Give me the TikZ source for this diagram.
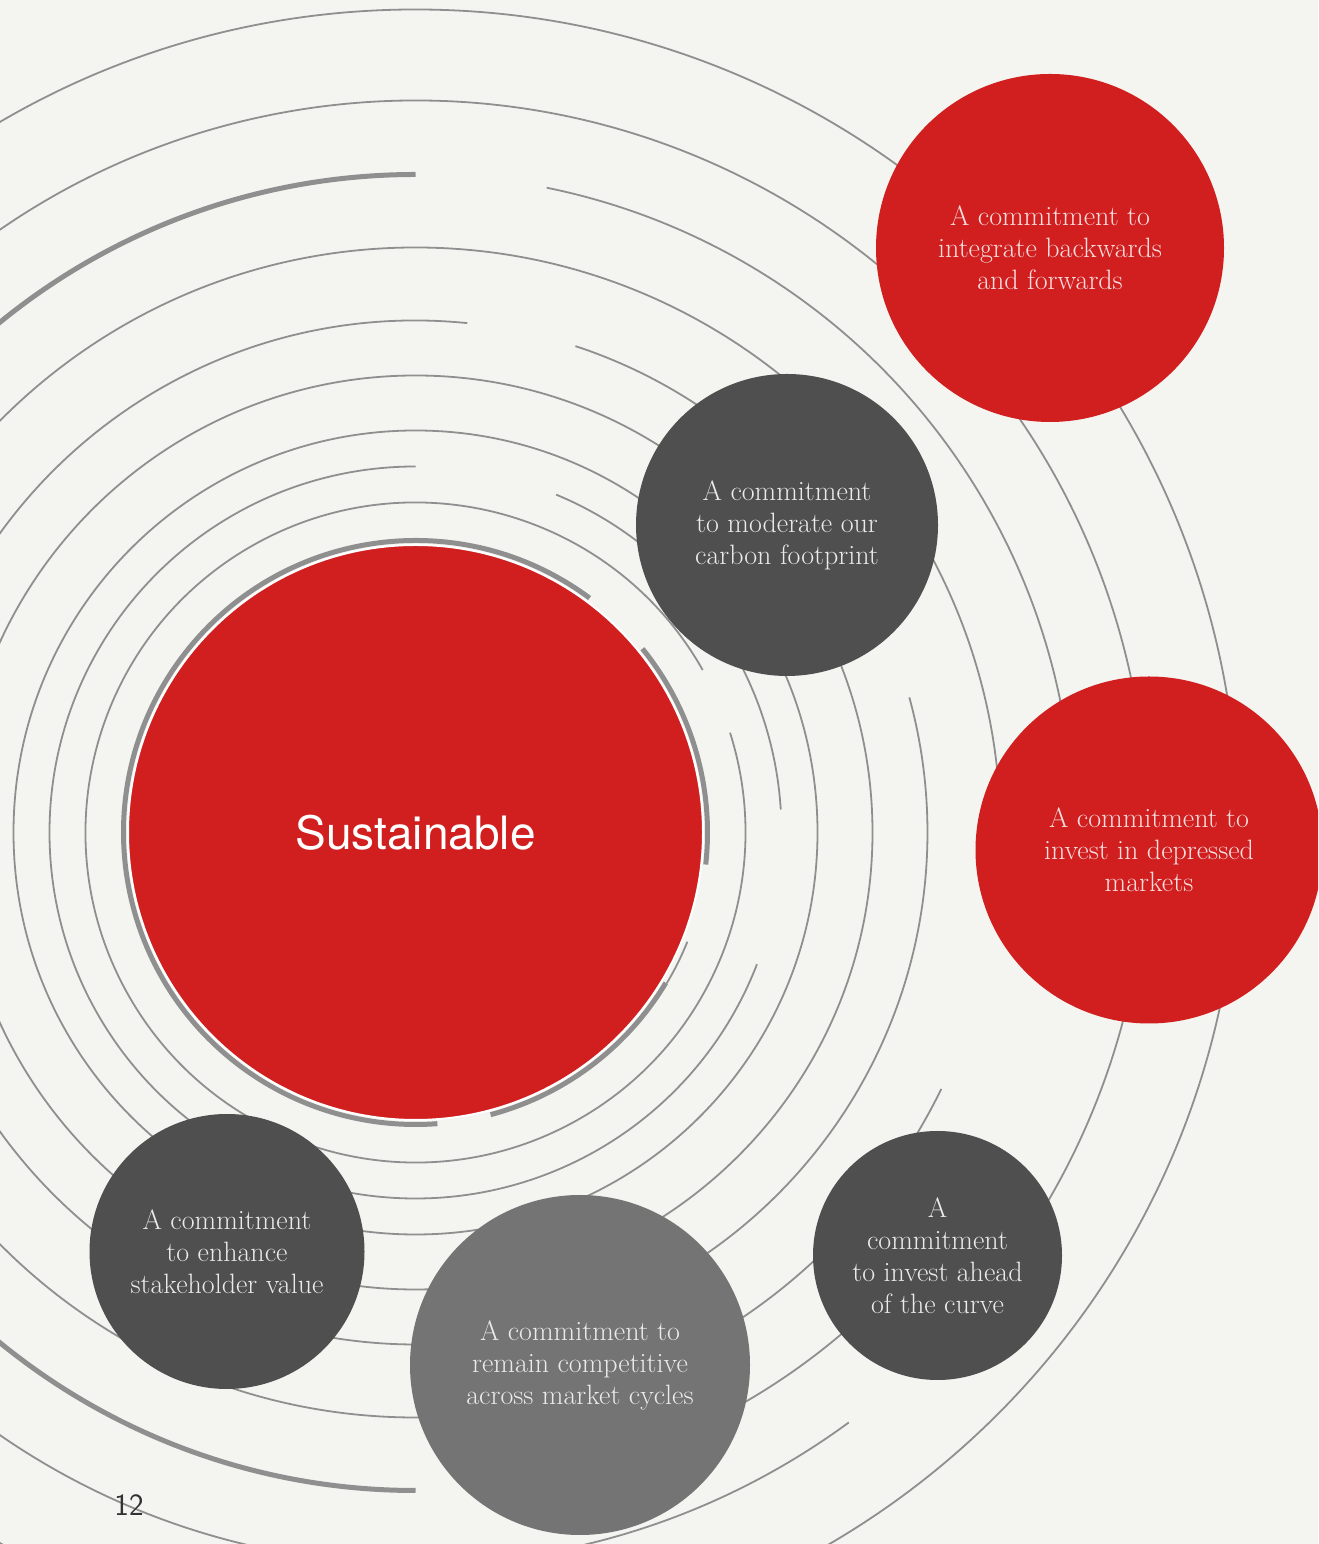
\documentclass[tikz,border=0pt]{standalone}
\usepackage{fontspec}
\newfontfamily\heros{TeX Gyre Heros}
\definecolor{bg}{RGB}{244,244,240}
\definecolor{myred}{RGB}{209,31,31}
\definecolor{dgray}{RGB}{79,79,79}
\definecolor{mgray}{RGB}{116,116,116}
\definecolor{ringc}{RGB}{143,143,143}
\definecolor{redtext}{RGB}{248,222,222}
\definecolor{graytext}{RGB}{234,234,234}
\definecolor{pagec}{RGB}{50,50,50}
\begin{document}
\begin{tikzpicture}[x=1pt,y=1pt,
  ring/.style={draw=ringc, line width=1.8pt},
  thickring/.style={draw=ringc, line width=5pt},
  bubble/.style={circle, inner sep=0pt, align=center, font=\fontsize{28}{32}\selectfont},
]
\useasboundingbox (0,0) rectangle (1318,1544);
\fill[bg] (0,0) rectangle (1318,1544);
\clip (0,0) rectangle (1318,1544);
\coordinate (C) at (415.5,711.5);

% rings around the centre
\draw[thickring] (C) ++(53.4:292) arc[start angle=53.4, end angle=274.3, radius=292];
\draw[thickring] (C) ++(-6.3:292) arc[start angle=-6.3, end angle=39, radius=292];
\draw[ring] (C) ++(-31:293) arc[start angle=-31, end angle=-21.9, radius=293];
\draw[thickring] (C) ++(-75.1:292) arc[start angle=-75.1, end angle=-31, radius=292];
\draw[ring] (C) ++(29.5:330) arc[start angle=29.5, end angle=377.6, radius=330];
\draw[ring] (C) ++(3.6:366) arc[start angle=3.6, end angle=67.4, radius=366];
\draw[ring] (C) ++(90:366) arc[start angle=90, end angle=338.9, radius=366];
\draw[ring] (C) circle[radius=402];
\draw[ring] (C) circle[radius=457];
\draw[ring] (C) ++(40:512) arc[start angle=40, end angle=71.8, radius=512];
\draw[ring] (C) ++(84.2:512) arc[start angle=84.2, end angle=375.3, radius=512];
\draw[ring] (C) ++(0:585) arc[start angle=0, end angle=334, radius=585];
\draw[thickring] (C) ++(90:658) arc[start angle=90, end angle=270, radius=658];
\draw[ring] (C) ++(0:658) arc[start angle=0, end angle=78.5, radius=658];
\draw[ring] (C) ++(-70:658) arc[start angle=-70, end angle=-40, radius=658];
\draw[ring] (C) ++(-40:732) arc[start angle=-40, end angle=306.3, radius=732];
\draw[ring] (C) circle[radius=823];

% bubbles
\node[bubble, fill=myred, minimum size=348pt, text=redtext] (integ) at (1050,1296)
  {A commitment to\\integrate backwards\\and forwards};
\node[bubble, fill=dgray, minimum size=302pt, text=graytext] (carbon) at (787,1019)
  {A commitment\\to moderate our\\carbon footprint};
\node[bubble, fill=myred, minimum size=347pt, text=redtext] (depr) at (1149,694)
  {A commitment to\\invest in depressed\\markets};
\node[bubble, fill=dgray, minimum size=249pt, text=graytext] (ahead) at (937.5,288.5)
  {A\\commitment\\to invest ahead\\of the curve};
\node[bubble, fill=mgray, minimum size=340pt, text=graytext] (compet) at (580,179)
  {A commitment to\\remain competitive\\across market cycles};
\node[bubble, fill=dgray, minimum size=275pt, text=graytext] (stake) at (227,292.5)
  {A commitment\\to enhance\\stakeholder value};
\node[circle, fill=myred, draw=white, line width=2pt, minimum size=575pt, inner sep=0pt,
  text=white, font=\heros\fontsize{46}{54}\selectfont] (sust) at (C) {Sustainable};

\node[text=pagec, font=\sffamily\fontsize{31}{36}\selectfont, inner sep=0pt] (page) at (129,39) {12};
\end{tikzpicture}
\end{document}
